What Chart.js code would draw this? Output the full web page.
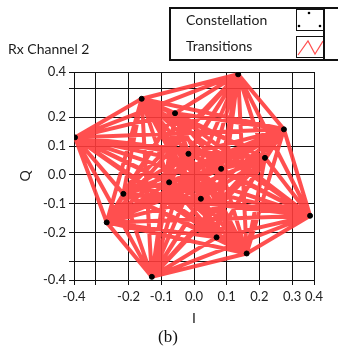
<!DOCTYPE html>
<html>
<head>
<meta charset="utf-8">
<script src="https://cdn.jsdelivr.net/npm/chart.js@4.4.1/dist/chart.umd.min.js"></script>
<style>
  body { margin: 0; background: #fff; overflow: hidden; }
  #wrap { position: relative; width: 338px; height: 352px; }
  canvas { position: absolute; left: 0; top: 0; }
  .txt { position: absolute; font-family: Lato, sans-serif; font-size: 14px; line-height: 14px; color: #1a1a1a; white-space: nowrap; }
  #legendBox { position: absolute; left: 169px; top: 7px; width: 156px; height: 54px; border: 2px solid #111; box-sizing: border-box; }
  #legendMore { position: absolute; left: 325px; top: 7px; width: 30px; height: 54px; border-top: 2px solid #111; border-bottom: 2px solid #111; box-sizing: border-box; }
  .icon { position: absolute; left: 296px; width: 28px; height: 22px; border: 1px solid #111; box-sizing: border-box; background: #fff; }
  #caption { position: absolute; left: 158px; top: 327px; font-family: "Liberation Serif", serif; font-size: 17px; color: #111; }
</style>
</head>
<body>
<div id="wrap">
  <canvas id="iq" width="338" height="352"></canvas>
  <div class="txt" style="left:8px; top:42px;">Rx Channel 2</div>
  <div id="legendBox"></div>
  <div id="legendMore"></div>
  <div class="txt" style="left:186px; top:13px;">Constellation</div>
  <div class="txt" style="left:186px; top:39px;">Transitions</div>
  <div class="icon" style="top:9px;">
    <svg width="26" height="20"><circle cx="12" cy="3" r="1.3" fill="#000"/><circle cx="2" cy="16" r="1.3" fill="#000"/><circle cx="23" cy="16" r="1.3" fill="#000"/></svg>
  </div>
  <div class="icon" style="top:36px;">
    <svg width="26" height="20"><polyline points="1,18 11,4 18,17 26,4" fill="none" stroke="#ff5050" stroke-width="1.2"/></svg>
  </div>
  <div id="caption">(b)</div>
</div>
<script>
// constellation symbols (I / Q)
var symI = [-0.017, 0.083, 0.021, -0.076, -0.058, 0.217, 0.069, -0.216, -0.364, -0.160, 0.135, 0.275, 0.355, 0.161, -0.129, -0.267];
var symQ = [0.073, 0.021, -0.083, -0.026, 0.214, 0.059, -0.217, -0.066, 0.130, 0.264, 0.349, 0.158, -0.142, -0.273, -0.354, -0.165];

// order in which the symbols were sent (gives the transition lines)
var symbolSeq = [0,1,2,3,4,5,6,7,8,9,10,11,12,13,14,15,0,
  3,6,9,12,15,2,5,8,11,14,1,4,7,10,13,0,
  5,10,15,4,9,14,3,8,13,2,7,12,1,6,11,0,
  7,14,5,12,3,10,1,8,15,6,13,4,11,2,9,0,
  2,4,6,8,10,12,14,0,1,3,5,7,9,11,13,15,1,
  7,13,3,9,15,5,11,1,0,6,12,2,8,14,4,10,0,
  4,8,12,0,1,5,9,13,1,2,6,10,14,2,3,7,11,15,3,
  11,4,12,5,13,6,14,7,15,0,8,1,9,2,10];

// axis ticks
var xTickVals = [-0.367, -0.3, -0.2, -0.1, 0, 0.1, 0.2, 0.3, 0.367];
var xTickLabels = ['-0.4', '', '-0.2', '-0.1', '0.0', '0.1', '0.2', '0.3', '0.4'];
var yTickVals = [-0.365, -0.3, -0.2, -0.1, 0, 0.1, 0.2, 0.3, 0.357];
var yTickLabels = ['-0.4', '', '-0.2', '-0.1', '0.0', '0.1', '0.2', '', '0.4'];

var constPts = symI.map(function (v, i) { return {x: v, y: symQ[i]}; });
var transPts = symbolSeq.map(function (s) { return {x: symI[s], y: symQ[s]}; });

var tickFont = {family: 'Lato, sans-serif', size: 13};

var ctx = document.getElementById('iq').getContext('2d');
var chart = new Chart(ctx, {
    type: 'scatter',
    data: {
        datasets: [{
            label: 'Constellation',
            data: constPts,
            backgroundColor: '#000',
            borderColor: '#000',
            pointRadius: 2.5,
            showLine: false,
            order: 0
        }, {
            label: 'Transitions',
            data: transPts,
            borderColor: 'rgba(255,60,60,0.9)',
            borderWidth: 4,
            borderJoinStyle: 'round',
            borderCapStyle: 'round',
            pointRadius: 0,
            showLine: true,
            tension: 0,
            order: 1
        }]
    },
    options: {
        responsive: false,
        animation: false,
        devicePixelRatio: 1,
        layout: {
            padding: {left: 0, right: 24, top: 72, bottom: 22}
        },
        plugins: {
            legend: {display: false},
            tooltip: {enabled: false}
        },
        scales: {
            x: {
                min: -0.367,
                max: 0.367,
                afterBuildTicks: function (scale) {
                    scale.ticks = xTickVals.map(function (v) { return {value: v}; });
                },
                afterFit: function (scale) { scale.height = 50; },
                ticks: {
                    autoSkip: false,
                    maxRotation: 0,
                    padding: 4,
                    color: '#222',
                    font: tickFont,
                    callback: function (value, index) { return xTickLabels[index]; }
                },
                grid: {color: '#111', lineWidth: 1, tickLength: 5},
                border: {color: '#111'},
                title: {display: true, text: 'I', color: '#222', font: {family: 'Lato, sans-serif', size: 14}, padding: {top: 0, bottom: 3}}
            },
            y: {
                min: -0.365,
                max: 0.357,
                afterBuildTicks: function (scale) {
                    scale.ticks = yTickVals.map(function (v) { return {value: v}; });
                },
                afterFit: function (scale) { scale.width = 74; },
                ticks: {
                    autoSkip: false,
                    padding: 3,
                    color: '#222',
                    font: tickFont,
                    callback: function (value, index) { return yTickLabels[index]; }
                },
                grid: {color: '#111', lineWidth: 1, tickLength: 5},
                border: {color: '#111'},
                title: {display: true, text: 'Q', color: '#222', font: {family: 'Lato, sans-serif', size: 14}, padding: {top: 17, bottom: 0}}
            }
        }
    }
});
</script>
</body>
</html>
